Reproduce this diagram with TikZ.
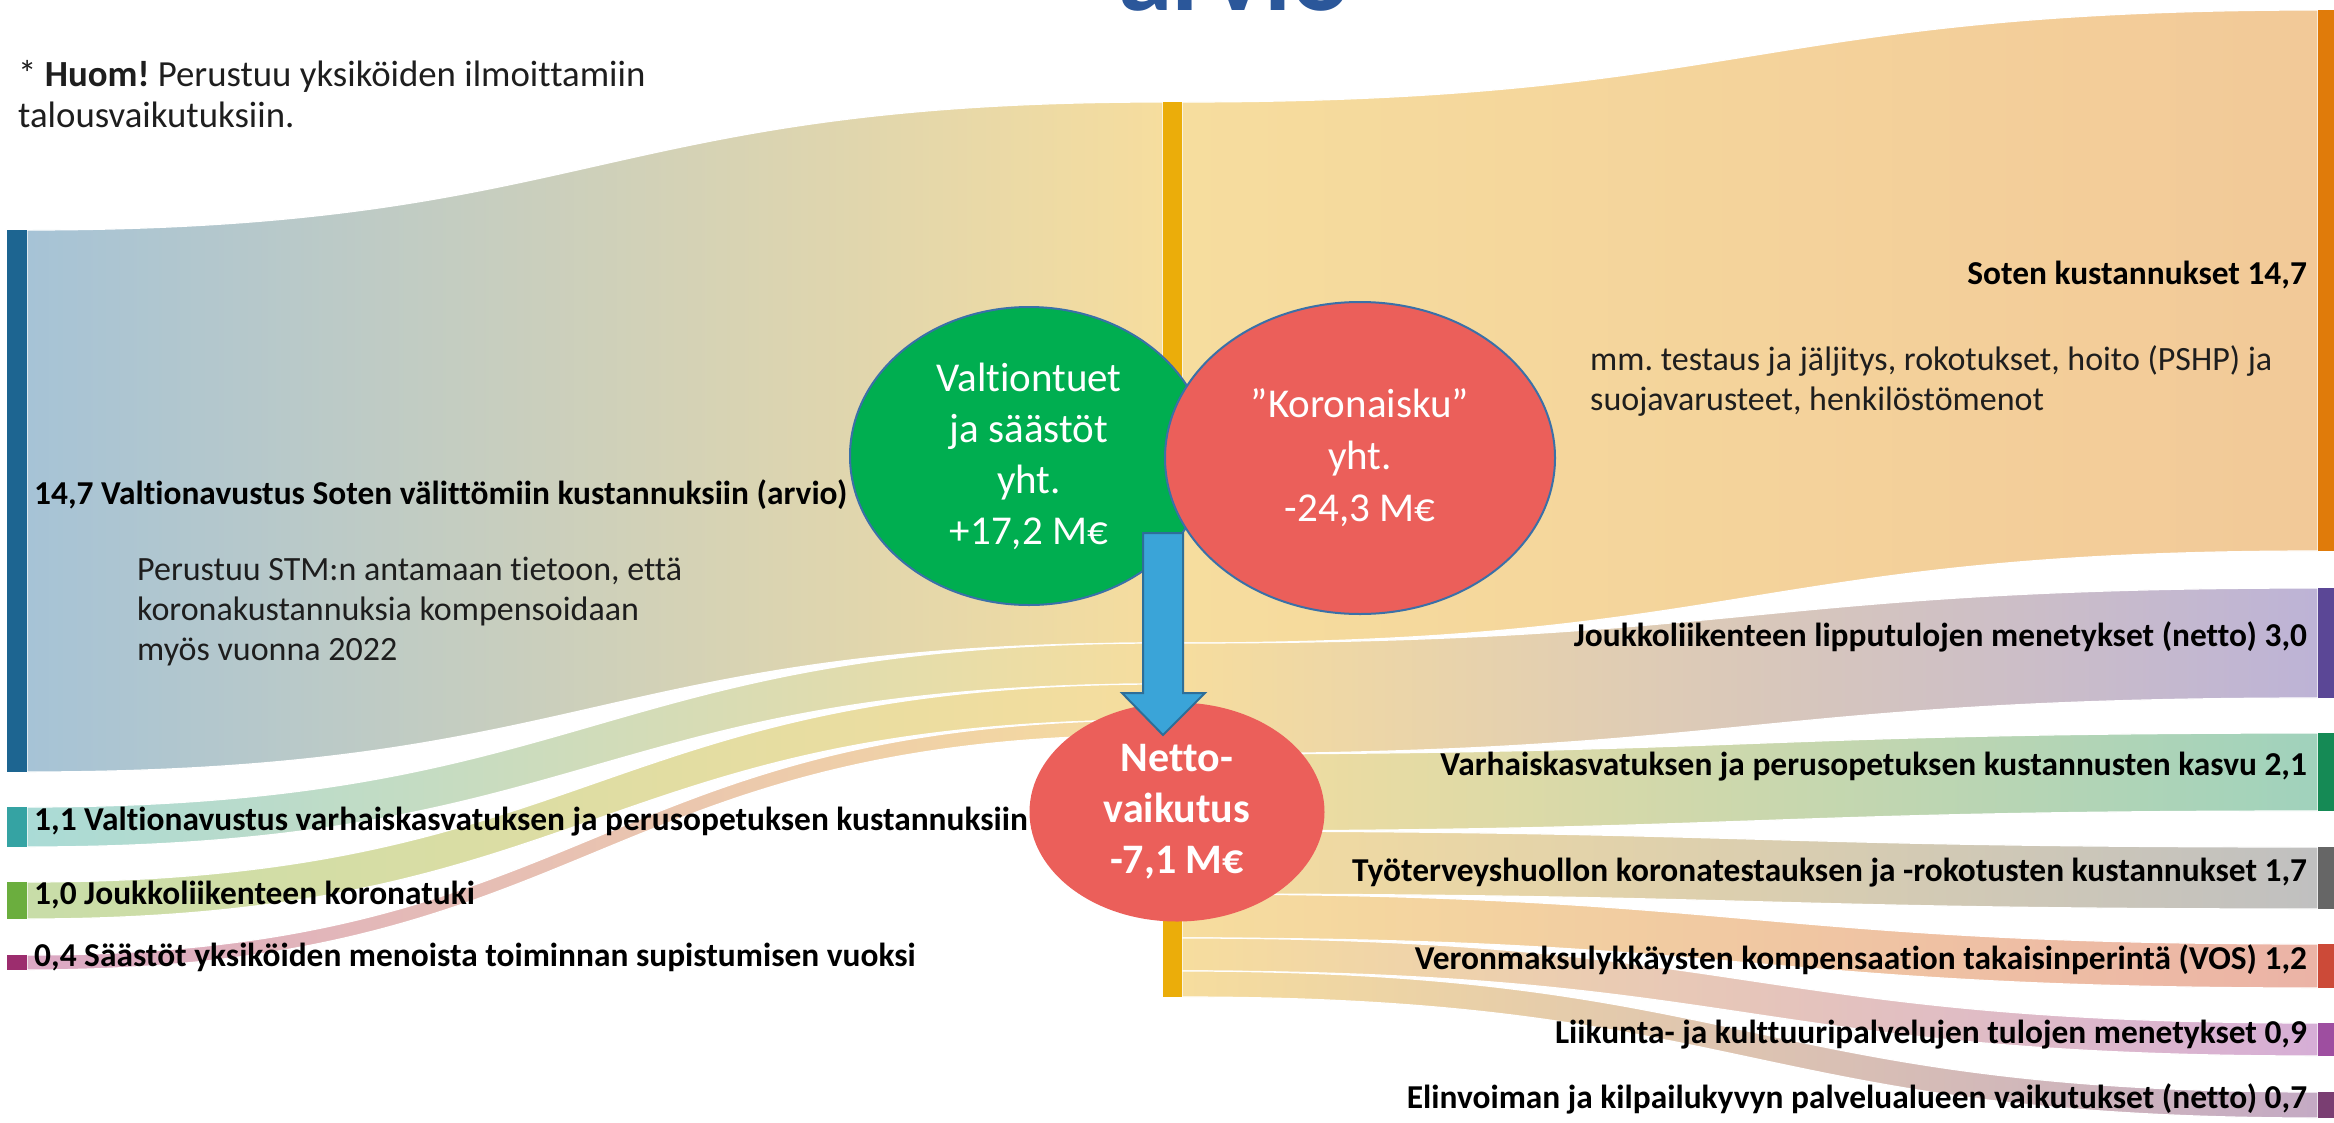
\documentclass[tikz,border=0pt]{standalone}
\usepackage{fontspec}
\setmainfont{Carlito}[Ligatures={NoCommon}]
\frenchspacing
\usetikzlibrary{shapes.geometric}
\definecolor{titleblue}{HTML}{2B579A}
\definecolor{midc}{HTML}{F6DD9E}
\definecolor{lfa}{HTML}{A6C3D6}
\definecolor{lfb}{HTML}{AADBD6}
\definecolor{lfc}{HTML}{C8DDA8}
\definecolor{lfd}{HTML}{DBA8C4}
\definecolor{rfa}{HTML}{F2C998}
\definecolor{rfb}{HTML}{BDB3D6}
\definecolor{rfc}{HTML}{A0D2BC}
\definecolor{rfd}{HTML}{C0C0C0}
\definecolor{rfe}{HTML}{EBB3A6}
\definecolor{rff}{HTML}{D6AED6}
\definecolor{rfg}{HTML}{C4AAC4}
\definecolor{bara}{HTML}{1D6591}
\definecolor{barb}{HTML}{35A3A3}
\definecolor{barc}{HTML}{6BAE3E}
\definecolor{bard}{HTML}{9C2D6E}
\definecolor{cbar}{HTML}{EBAD0A}
\definecolor{rba}{HTML}{E07B0A}
\definecolor{rbb}{HTML}{5B4796}
\definecolor{rbc}{HTML}{158A55}
\definecolor{rbd}{HTML}{666666}
\definecolor{rbe}{HTML}{CC4A38}
\definecolor{rbf}{HTML}{9E4EA0}
\definecolor{rbg}{HTML}{7A3E72}
\definecolor{vgreen}{HTML}{00AE50}
\definecolor{kred}{HTML}{EB5F5A}
\definecolor{ringblue}{HTML}{3A70A8}
\definecolor{arrowfill}{HTML}{3AA4D8}
\definecolor{arrowline}{HTML}{2E6E98}
\definecolor{txt}{HTML}{1E1E1E}
\newcommand\flowband[8]{%
  \pgfmathsetmacro\xm{(#1+#4)/2}%
  \shadedraw[left color=#7, right color=#8, draw=white, line width=1.2pt]
    (#1,#2) .. controls (\xm,#2) and (\xm,#5) .. (#4,#5) -- (#4,#6)
    .. controls (\xm,#6) and (\xm,#3) .. (#1,#3) -- cycle;}
\begin{document}
\begin{tikzpicture}[x=1pt,y=-1pt,
  lbl/.style={font=\fontsize{33.4}{40}\selectfont\bfseries, text=black, inner sep=0pt, text height=0.64em, text depth=0pt},
  reg/.style={font=\fontsize{34}{40}\selectfont, text=txt, inner sep=0pt, anchor=base west},
  bubble/.style={ellipse, inner sep=0pt, text=white, align=center}]
\useasboundingbox (0,0) rectangle (2334,1122);
\fill[white] (0,0) rectangle (2334,1122);
% title (cut off at the top edge, as in the reference)
\node[anchor=base west, inner sep=0pt, font=\fontsize{110}{120}\selectfont\bfseries, text=titleblue] (title) at (1118,10) {arvio};
% flows left
\flowband{27}{230}{772}{1163}{102}{643}{lfa}{midc}
\flowband{27}{807}{847}{1163}{643}{684}{lfb}{midc}
\flowband{27}{882}{919}{1163}{684}{720}{lfc}{midc}
\flowband{27}{955}{970}{1163}{720}{735}{lfd}{midc}
% flows right
\flowband{1182}{102}{643}{2318}{10}{551}{midc}{rfa}
\flowband{1182}{643}{754}{2318}{588}{698}{midc}{rfb}
\flowband{1182}{754}{831}{2318}{733}{811}{midc}{rfc}
\flowband{1182}{831}{894}{2318}{847}{909}{midc}{rfd}
\flowband{1182}{894}{938}{2318}{944}{988}{midc}{rfe}
\flowband{1182}{938}{971}{2318}{1023}{1056}{midc}{rff}
\flowband{1182}{971}{997}{2318}{1092}{1118}{midc}{rfg}
% bars
\fill[bara] (7,230) rectangle (27,772);
\fill[barb] (7,807) rectangle (27,847);
\fill[barc] (7,882) rectangle (27,919);
\fill[bard] (7,955) rectangle (27,970);
\fill[cbar] (1163,102) rectangle (1182,997);
\fill[rba] (2318,10) rectangle (2334,551);
\fill[rbb] (2318,588) rectangle (2334,698);
\fill[rbc] (2318,733) rectangle (2334,811);
\fill[rbd] (2318,847) rectangle (2334,909);
\fill[rbe] (2318,944) rectangle (2334,988);
\fill[rbf] (2318,1023) rectangle (2334,1056);
\fill[rbg] (2318,1092) rectangle (2334,1118);
% note
\node[reg, font=\fontsize{36.8}{44}\selectfont] (note1) at (18,86) {* \textbf{Huom!} Perustuu yksiköiden ilmoittamiin};
\node[reg, font=\fontsize{36.8}{44}\selectfont] (note2) at (18,127) {talousvaikutuksiin.};
% left labels
\node[lbl, anchor=west] (la) at (34,501) {14,7 Valtionavustus Soten välittömiin kustannuksiin (arvio)};
\node[reg] (pa) at (137,580) {Perustuu STM:n antamaan tietoon, että};
\node[reg] (pb) at (137,620) {koronakustannuksia kompensoidaan};
\node[reg] (pc) at (137,660) {myös vuonna 2022};
\node[lbl, anchor=west] (lb) at (34,827) {1,1 Valtionavustus varhaiskasvatuksen ja perusopetuksen kustannuksiin};
\node[lbl, anchor=west] (lc) at (34,901) {1,0 Joukkoliikenteen koronatuki};
\node[lbl, anchor=west] (ld) at (34,963) {0,4 Säästöt yksiköiden menoista toiminnan supistumisen vuoksi};
% right labels
\node[lbl, anchor=east] (ra) at (2307,281) {Soten kustannukset 14,7};
\node[reg] (ma) at (1590,370) {mm. testaus ja jäljitys, rokotukset, hoito (PSHP) ja};
\node[reg] (mb) at (1590,410) {suojavarusteet, henkilöstömenot};
\node[lbl, anchor=east] (rb) at (2307,643) {Joukkoliikenteen lipputulojen menetykset (netto) 3,0};
\node[lbl, anchor=east] (rc) at (2307,772) {Varhaiskasvatuksen ja perusopetuksen kustannusten kasvu 2,1};
\node[lbl, anchor=east] (rd) at (2307,878) {Työterveyshuollon koronatestauksen ja -rokotusten kustannukset 1,7};
\node[lbl, anchor=east] (re) at (2307,966) {Veronmaksulykkäysten kompensaation takaisinperintä (VOS) 1,2};
\node[lbl, anchor=east] (rf) at (2307,1040) {Liikunta- ja kulttuuripalvelujen tulojen menetykset 0,9};
\node[lbl, anchor=east] (rg) at (2307,1105) {Elinvoiman ja kilpailukyvyn palvelualueen vaikutukset (netto) 0,7};
% bubbles
\node[bubble, fill=vgreen, draw=ringblue, line width=2pt, minimum width=358pt, minimum height=298pt, font=\fontsize{41}{51}\selectfont] (green) at (1029,456) {Valtiontuet\\ja säästöt\\yht.\\+17,2 M€};
\node[bubble, fill=kred, draw=ringblue, line width=2pt, minimum width=390pt, minimum height=312pt, font=\fontsize{41}{52}\selectfont] (red) at (1360,458) {”Koronaisku”\\yht.\\-24,3 M€};
\node[bubble, fill=kred, minimum width=295pt, minimum height=219pt, font=\fontsize{42}{51}\selectfont\bfseries] (netto) at (1177,812) {Netto-\\vaikutus\\-7,1 M€};
% block arrow from green bubble to netto bubble
\coordinate (atop) at (1163,533);
\coordinate (atip) at (1163,735);
\filldraw[fill=arrowfill, draw=arrowline, line width=2pt, line join=miter]
  (1143,533) -- (1183,533) -- (1183,693) -- (1205,693) -- (atip) -- (1122,693) -- (1143,693) -- cycle;
\end{tikzpicture}
\end{document}
